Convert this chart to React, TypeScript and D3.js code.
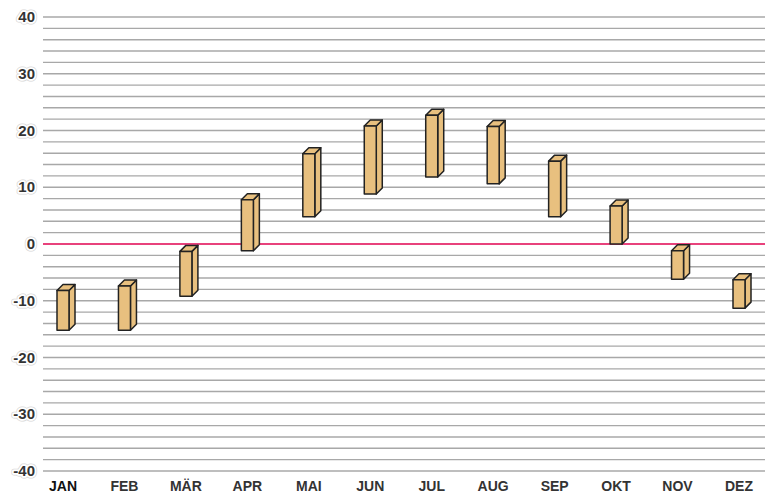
import React, { useEffect, useRef } from "react";
import * as d3 from "d3";

const months = ["JAN", "FEB", "MÄR", "APR", "MAI", "JUN", "JUL", "AUG", "SEP", "OKT", "NOV", "DEZ"];
const tempMin = [-15.2, -15.2, -9.2, -1.2, 4.8, 8.8, 11.8, 10.6, 4.8, 0, -6.2, -11.3];
const tempMax = [-8.2, -7.4, -1.3, 7.8, 15.9, 20.8, 22.7, 20.7, 14.6, 6.7, -1.2, -6.3];
const yTicks = [40, 30, 20, 10, 0, -10, -20, -30, -40];

function App() {
  const svgRef = useRef<SVGSVGElement>(null);
  const width = 765;
  const height = 497;

  useEffect(() => {
    const svg = d3.select(svgRef.current);
    svg.selectAll("*").remove();

    const y = d3.scaleLinear().domain([-40, 40]).range([471, 17]);
    const x = d3.scalePoint<string>().domain(months).range([63, 739]);

    // grid lines every 2 degrees
    svg.append("g")
      .selectAll("line")
      .data(d3.range(-40, 41, 2).filter(d => d !== 0))
      .join("line")
      .attr("x1", 43)
      .attr("x2", width)
      .attr("y1", d => y(d))
      .attr("y2", d => y(d))
      .attr("stroke", "#a8a8a8")
      .attr("stroke-width", 1.4);

    // zero line
    svg.append("line")
      .attr("x1", 43)
      .attr("x2", width)
      .attr("y1", y(0))
      .attr("y2", y(0))
      .attr("stroke", "#e8427c")
      .attr("stroke-width", 2.2);

    // y labels with halo
    const yl = svg.append("g")
      .attr("font-family", "'Liberation Sans', Arial, sans-serif")
      .attr("font-weight", "bold")
      .attr("font-size", 15)
      .attr("text-anchor", "end");
    yl.selectAll("text.halo2")
      .data(yTicks)
      .join("text")
      .attr("x", 35)
      .attr("y", d => y(d) + 5)
      .attr("stroke", "#d8d8d8")
      .attr("stroke-width", 5)
      .attr("stroke-linejoin", "round")
      .attr("fill", "#d8d8d8")
      .text(d => d);
    yl.selectAll("text.halo")
      .data(yTicks)
      .join("text")
      .attr("x", 35)
      .attr("y", d => y(d) + 5)
      .attr("stroke", "#fff")
      .attr("stroke-width", 3.5)
      .attr("stroke-linejoin", "round")
      .attr("fill", "#fff")
      .text(d => d);
    yl.selectAll("text.lab")
      .data(yTicks)
      .join("text")
      .attr("x", 35)
      .attr("y", d => y(d) + 5)
      .attr("fill", "#333")
      .text(d => d);

    // 3d bars
    const w = 12, dx = 6, dy = 6;
    const bars = svg.append("g")
      .selectAll("g")
      .data(months.map((m, i) => ({ m, lo: tempMin[i], hi: tempMax[i] })))
      .join("g")
      .attr("fill", "#e8c07f")
      .attr("stroke", "#222")
      .attr("stroke-width", 1.5)
      .attr("stroke-linejoin", "round");

    bars.each(function (d) {
      const g = d3.select(this);
      const x0 = (x(d.m) as number) - w / 2;
      const x1 = x0 + w;
      const yt = y(d.hi);
      const yb = y(d.lo);
      // side face
      g.append("path").attr("d", `M${x1},${yt}L${x1 + dx},${yt - dy}L${x1 + dx},${yb - dy}L${x1},${yb}Z`);
      // top face
      g.append("path").attr("d", `M${x0},${yt}L${x0 + dx},${yt - dy}L${x1 + dx},${yt - dy}L${x1},${yt}Z`);
      // front face
      g.append("rect").attr("x", x0).attr("y", yt).attr("width", w).attr("height", yb - yt);
    });

    // month labels
    svg.append("g")
      .selectAll("text")
      .data(months)
      .join("text")
      .attr("x", d => x(d) as number)
      .attr("y", 491)
      .attr("text-anchor", "middle")
      .attr("font-family", "'Liberation Sans', Arial, sans-serif")
      .attr("font-weight", "bold")
      .attr("font-size", 14)
      .attr("fill", (d, i) => (i === 0 ? "#111" : "#333"))
      .text(d => d);
  }, []);

  return (
    <svg
      ref={svgRef}
      width={width}
      height={height}
      style={{ position: "absolute", left: 0, top: 0, background: "#fff" }}
    />
  );
}

export default App;
